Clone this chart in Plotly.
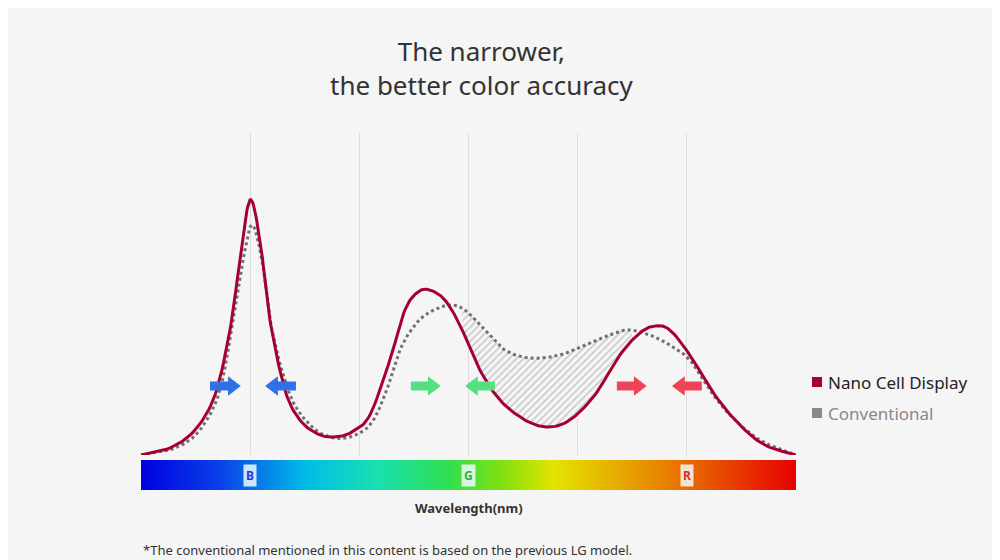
import numpy as np
import plotly.graph_objects as go

# pixel-read samples (x in px, y in px), converted below to axis units
nano_px_x = [141,170,195,215,230,240,250,260,270,285,300,318,335,352,370,390,405,418,430,445,460,480,500,525,548,570,595,620,640,655,670,690,715,740,765,796]
nano_px_y = [455,448,430,395,330,260,200,240,320,390,420,434,437,432,415,360,310,292,290,300,325,370,400,420,427,420,395,355,333,326,330,355,395,425,445,455]
conv_px_x = [141,175,200,220,233,243,252,262,272,290,310,330,350,370,385,400,415,430,450,465,485,505,530,560,590,615,630,650,670,690,710,730,760,796]
conv_px_y = [455,448,430,390,320,260,225,260,330,395,425,437,437,425,395,350,325,312,305,310,330,350,358,355,343,333,330,335,345,360,390,415,440,455]

def ux(p): return (np.array(p, float) - 141) / 109.2
def uy(p): return 455 - np.array(p, float)

nano_x, nano_y = ux(nano_px_x), uy(nano_px_y)
conv_x, conv_y = ux(conv_px_x), uy(conv_px_y)

band_labels = ["B", "G", "R"]
band_pos = [1, 3, 5]
arrow_color = ["#2f6fe8", "#2f6fe8", "#55e080", "#55e080", "#ee4455", "#ee4455"]
arrow_start = ux([210, 296, 411, 495, 617, 702])
arrow_end = ux([240, 266, 440, 466, 646, 673])
arrow_y = 455 - 386

def smooth(x, y, n=12):
    P = np.column_stack([x, y])
    P = np.vstack([P[0], P, P[-1]])
    out = []
    for i in range(1, len(P) - 2):
        p0, p1, p2, p3 = P[i-1], P[i], P[i+1], P[i+2]
        for t in np.linspace(0, 1, n, endpoint=False):
            t2, t3 = t*t, t*t*t
            out.append(0.5*((2*p1) + (-p0+p2)*t + (2*p0-5*p1+4*p2-p3)*t2 + (-p0+3*p1-3*p2+p3)*t3))
    out.append(P[-2])
    o = np.array(out)
    return o[:, 0], o[:, 1]

nx, ny = smooth(nano_x, nano_y)
cx, cy = smooth(conv_x, conv_y)

fig = go.Figure()

g = np.linspace(ux([462])[0], ux([632])[0], 200)
gn = np.interp(g, nx, ny)
gc = np.interp(g, cx, cy)
top = np.maximum(gn, gc)
fig.add_trace(go.Scatter(x=g, y=gn, mode="lines", line=dict(width=0), hoverinfo="skip", showlegend=False))
fig.add_trace(go.Scatter(x=g, y=top, mode="lines", line=dict(width=0), fill="tonexty",
                         fillcolor="rgba(0,0,0,0)",
                         fillpattern=dict(shape="/", fgcolor="#9a9aa4", bgcolor="rgba(245,245,245,1)", size=5, solidity=0.3),
                         hoverinfo="skip", showlegend=False))

fig.add_trace(go.Scatter(x=cx, y=cy, mode="lines", line=dict(color="#707070", width=3, dash="dot"), showlegend=False))
fig.add_trace(go.Scatter(x=nx, y=ny, mode="lines", line=dict(color="#a50034", width=3), showlegend=False))

for s, e, c in zip(arrow_start, arrow_end, arrow_color):
    d = 1 if e > s else -1
    fig.add_trace(go.Scatter(x=[s, e - d*0.07], y=[arrow_y, arrow_y], mode="lines",
                             line=dict(color=c, width=9), showlegend=False, hoverinfo="skip"))
    fig.add_trace(go.Scatter(x=[e - d*0.07], y=[arrow_y], mode="markers",
                             marker=dict(symbol="triangle-right" if d > 0 else "triangle-left", size=17, color=c),
                             showlegend=False, hoverinfo="skip"))

spec = np.linspace(0, 6, 400)
fig.add_trace(go.Heatmap(x=spec, y=[0, 1], z=[spec, spec], xaxis="x", yaxis="y2", showscale=False,
                         colorscale=[[0, "#0000e0"], [0.12, "#0a40e8"], [0.25, "#00bce8"], [0.36, "#18e0b0"],
                                     [0.47, "#30e050"], [0.55, "#80e010"], [0.63, "#e4e400"], [0.8, "#e88000"],
                                     [0.9, "#e84000"], [1, "#e80000"]], hoverinfo="skip"))

ann = []
for lab, p in zip(band_labels, band_pos):
    ann.append(dict(x=p, y=0.5, xref="x", yref="y2", text="<b>" + lab + "</b>", showarrow=False,
                    font=dict(size=12, color={"B": "#1a3ad0", "G": "#30b030", "R": "#e03020"}[lab], family="Noto Sans"),
                    bgcolor="rgba(240,250,250,0.85)", borderpad=2))
ann += [
    dict(x=0.52, y=1.0, xref="paper", yref="paper", yanchor="bottom", yshift=28,
         text="The narrower,<br>the better color accuracy", showarrow=False,
         font=dict(size=26, color="#333", family="Noto Sans")),
    dict(x=3, y=-0.08, xref="x", yref="paper", text="<b>Wavelength(nm)</b>", showarrow=False,
         font=dict(size=13, color="#333", family="Noto Sans")),
    dict(x=0, y=-0.2, xref="x", yref="paper", xanchor="left", text="*The conventional mentioned in this content is based on the previous LG model.",
         showarrow=False, font=dict(size=13, color="#333", family="Noto Sans")),
    dict(x=1.0, xref="paper", xshift=30, y=455-382, yref="y", xanchor="left", text="Nano Cell Display", showarrow=False,
         font=dict(size=17, color="#222", family="Noto Sans")),
    dict(x=1.0, xref="paper", xshift=30, y=455-413, yref="y", xanchor="left", text="Conventional", showarrow=False,
         font=dict(size=17, color="#888", family="Noto Sans")),
]
shapes = [
    dict(type="rect", xref="paper", yref="y", xsizemode="pixel", xanchor=1.0, x0=16, x1=26,
         ysizemode="pixel", yanchor=455-382, y0=-5, y1=5, fillcolor="#a50034", line_width=0),
    dict(type="rect", xref="paper", yref="y", xsizemode="pixel", xanchor=1.0, x0=16, x1=26,
         ysizemode="pixel", yanchor=455-413, y0=-5, y1=5, fillcolor="#888888", line_width=0),
]

H = 560 - 125 - 78
fig.update_layout(
    width=1000, height=560, margin=dict(l=133, r=212, t=125, b=78),
    paper_bgcolor="#f5f5f5", plot_bgcolor="#f5f5f5",
    xaxis=dict(range=[0, 6], showgrid=True, gridcolor="#dcdcdc", gridwidth=1, dtick=1, tick0=0,
               showticklabels=False, zeroline=False, showline=False, ticks=""),
    yaxis=dict(range=[0, 322], domain=[(490-455)/H, 1], showgrid=False, showticklabels=False, zeroline=False),
    yaxis2=dict(range=[0, 1], domain=[0, (490-460)/H], showgrid=False, showticklabels=False, zeroline=False),
    annotations=ann, shapes=shapes, showlegend=False,
)
fig.write_html("out.html")
